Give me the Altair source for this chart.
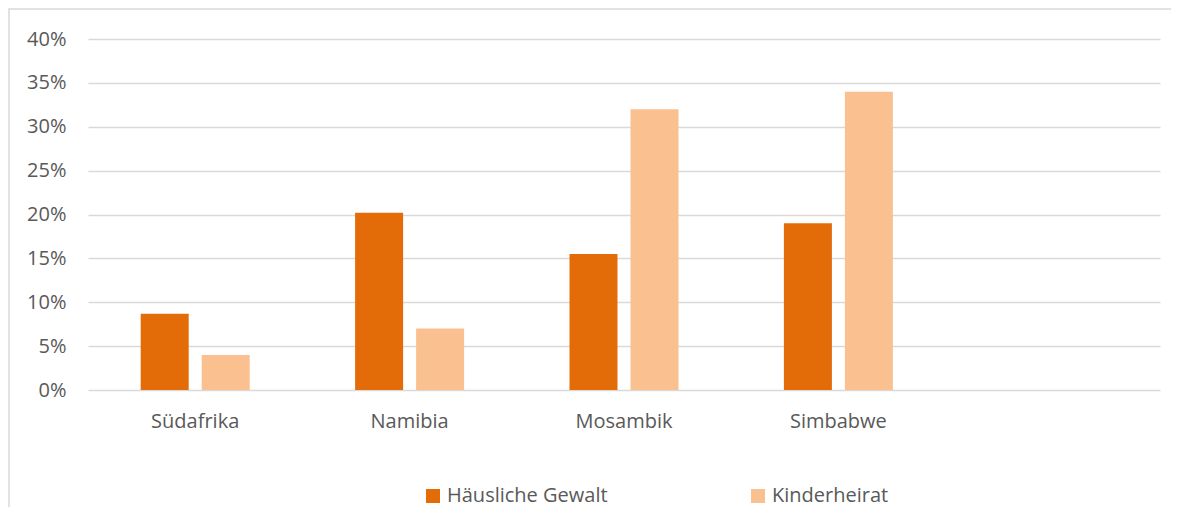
import altair as alt
import pandas as pd

countries = ["Südafrika", "Namibia", "Mosambik", "Simbabwe"]
x_domain = countries + [" "]
series = ["Häusliche Gewalt", "Kinderheirat"]
haeusliche_gewalt = [0.087, 0.202, 0.155, 0.190]
kinderheirat = [0.040, 0.070, 0.320, 0.340]
colors = ["#E36C09", "#FAC090"]

rows = []
for c, a, b in zip(countries, haeusliche_gewalt, kinderheirat):
    rows.append({"Land": c, "Serie": series[0], "Wert": a})
    rows.append({"Land": c, "Serie": series[1], "Wert": b})
df = pd.DataFrame(rows)

FONT = "Open Sans"
TXT = "#595959"

bars = alt.Chart(df).mark_bar().encode(
    x=alt.X("Land:N", scale=alt.Scale(domain=x_domain, paddingInner=0, paddingOuter=0),
            axis=alt.Axis(title=None, labelAngle=0, ticks=False, domain=False,
                          labelPadding=21, labelFontSize=20, labelColor=TXT, labelFont=FONT)),
    xOffset=alt.XOffset("Serie:N", scale=alt.Scale(domain=series, paddingInner=0.213, paddingOuter=0.864)),
    y=alt.Y("Wert:Q", scale=alt.Scale(domain=[0, 0.4]),
            axis=alt.Axis(title=None, format="%", values=[0, 0.05, 0.1, 0.15, 0.2, 0.25, 0.3, 0.35, 0.4],
                          ticks=False, domain=False, labelPadding=22, labelFontSize=20,
                          labelColor=TXT, labelFont=FONT, gridColor="#D9D9D9", gridWidth=1.3)),
    color=alt.Color("Serie:N", scale=alt.Scale(domain=series, range=colors),
                    legend=alt.Legend(title=None, orient="none", direction="horizontal",
                                      legendX=335, legendY=447, symbolType="square", symbolSize=196,
                                      symbolStrokeWidth=0, labelOffset=4, columnPadding=140,
                                      labelFontSize=20, labelColor=TXT, labelFont=FONT, labelLimit=400)),
)

frame = alt.Chart(pd.DataFrame({"a": [0]})).mark_rect(filled=False, stroke="#D9D9D9", strokeWidth=1.5).encode(
    x=alt.value(-79), x2=alt.value(1400), y=alt.value(-30), y2=alt.value(800)
)

chart = alt.layer(frame, bars).properties(
    width=1072, height=351,
    padding={"left": 80, "top": 31, "right": 11, "bottom": 125},
    autosize=alt.AutoSizeParams(type="none"),
).configure_view(stroke=None)

chart.save("out.html", embed_options={"renderer": "svg", "actions": False})
